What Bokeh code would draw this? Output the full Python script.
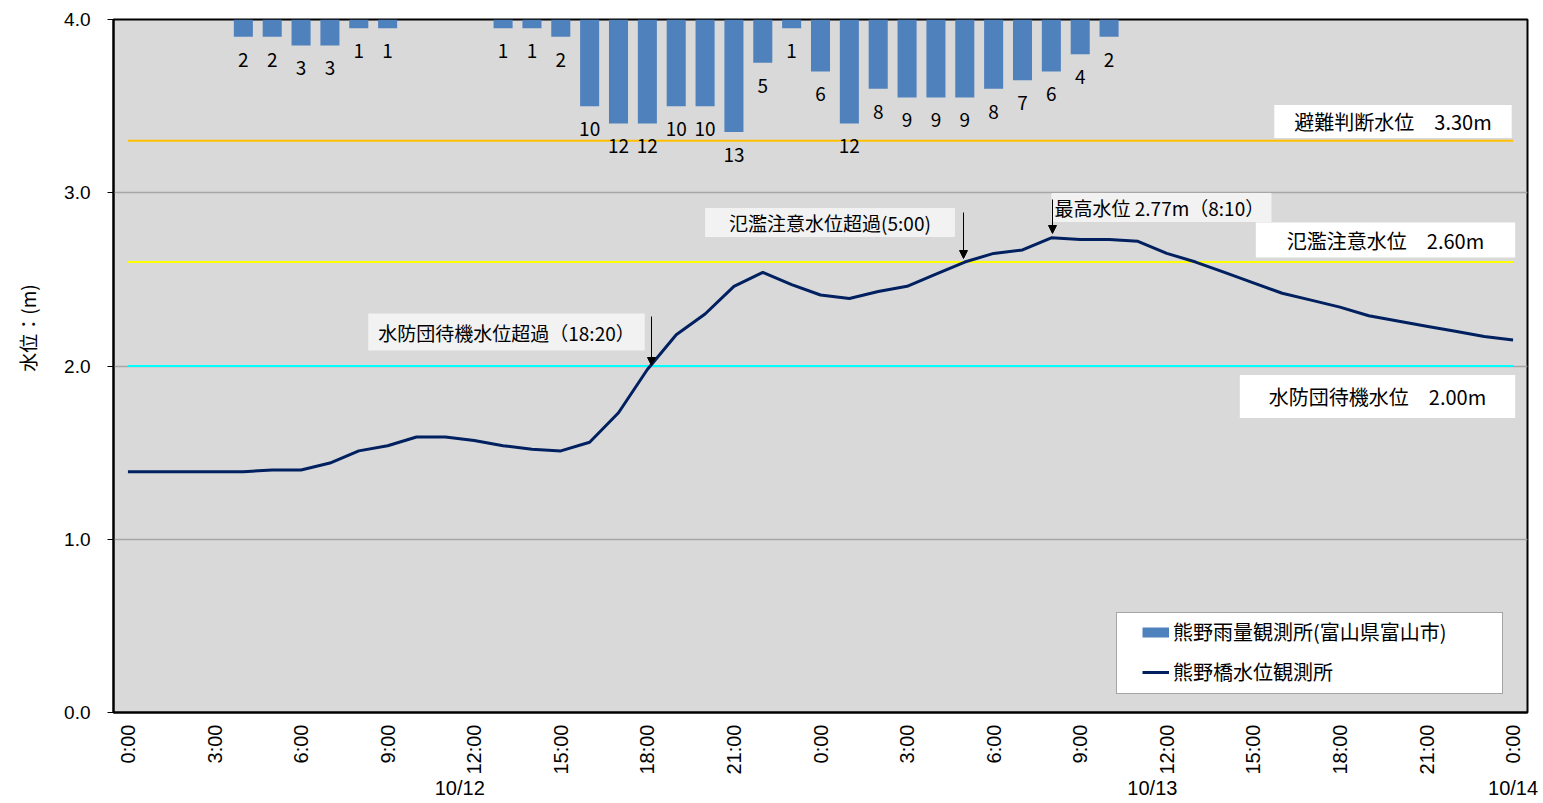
from math import pi
from bokeh.plotting import figure
from bokeh.models import (Range1d, FixedTicker, NumeralTickFormatter, ColumnDataSource, LinearAxis,
                          LabelSet, Label, Arrow, NormalHead, BoxAnnotation, Legend, LegendItem)
from bokeh.core.properties import value
from bokeh.embed import file_html
from bokeh.resources import INLINE

# ---------------- data ----------------
hours = list(range(49))  # 10/12 0:00 ... 10/14 0:00, hourly
water_level = [1.39, 1.39, 1.39, 1.39, 1.39, 1.40, 1.40, 1.44, 1.51, 1.54,
               1.59, 1.59, 1.57, 1.54, 1.52, 1.51, 1.56, 1.73, 1.98, 2.18,
               2.30, 2.46, 2.54, 2.47, 2.41, 2.39, 2.43, 2.46, 2.53, 2.60,
               2.65, 2.67, 2.74, 2.73, 2.73, 2.72, 2.65, 2.60, 2.54, 2.48,
               2.42, 2.38, 2.34, 2.29, 2.26, 2.23, 2.20, 2.17, 2.15]
rainfall = [0, 0, 0, 0, 2, 2, 3, 3, 1, 1,
            0, 0, 0, 1, 1, 2, 10, 12, 12, 10,
            10, 13, 5, 1, 6, 12, 8, 9, 9, 9,
            8, 7, 6, 4, 2, 0, 0, 0, 0, 0,
            0, 0, 0, 0, 0, 0, 0, 0, 0]
tick_hours = [0, 3, 6, 9, 12, 15, 18, 21, 24, 27, 30, 33, 36, 39, 42, 45, 48]
tick_labels = ["0:00", "3:00", "6:00", "9:00", "12:00", "15:00", "18:00", "21:00",
               "0:00", "3:00", "6:00", "9:00", "12:00", "15:00", "18:00", "21:00", "0:00"]
date_labels = ["10/12", "10/13", "10/14"]
date_centers = [11.5, 35.5, 48]
y_ticks = [0, 1, 2, 3, 4]
threshold_labels = ["避難判断水位　3.30m", "氾濫注意水位　2.60m", "水防団待機水位　2.00m"]
threshold_values = [3.30, 2.60, 2.00]
threshold_colors = ["#FFC000", "#FFFF00", "#00FFFF"]
rain_name = "熊野雨量観測所(富山県富山市)"
water_name = "熊野橋水位観測所"
y_title = "水位：(m)"

JP = "Noto Sans CJK JP"
NUM = "Liberation Sans"

# ---------------- layout helpers (page pixel -> data) ----------------
W, H = 1541, 803
X_LO, X_HI = -0.5, 48.5
F_L, F_R, F_T, F_B = 113, 1527, 19, 712
def px2x(px):
    return X_LO + (px - F_L) / (F_R - F_L) * (X_HI - X_LO)
def px2y(py):
    return (F_B - py) / (F_B - F_T) * 4.0

p = figure(width=W, height=H, x_range=Range1d(X_LO, X_HI), y_range=Range1d(0, 4),
           output_backend="svg", toolbar_location=None,
           min_border_left=F_L, min_border_right=W - F_R,
           min_border_top=F_T, min_border_bottom=H - F_B)
p.extra_y_ranges = {"rain": Range1d(start=80, end=0)}
p.background_fill_color = "#D9D9D9"
p.border_fill_color = "white"
p.outline_line_color = "black"
p.outline_line_width = 2

p.xgrid.visible = False
p.ygrid.ticker = FixedTicker(ticks=y_ticks)
p.ygrid.grid_line_color = "#A6A6A6"
p.ygrid.grid_line_width = 1.5

yax = p.yaxis[0]
yax.ticker = FixedTicker(ticks=y_ticks)
yax.formatter = NumeralTickFormatter(format="0.0")
yax.major_label_text_font = NUM
yax.major_label_text_font_size = "19px"
yax.major_label_text_color = "black"
yax.axis_line_width = 2
yax.axis_line_color = "black"
yax.major_tick_out = 6
yax.major_tick_in = 0
yax.minor_tick_line_color = None
yax.major_label_standoff = 17
yax.axis_label = "\u3000\u3000\u3000\u3000" + y_title
yax.axis_label_text_font = JP
yax.axis_label_text_font_size = "19px"
yax.axis_label_text_font_style = "normal"
yax.axis_label_text_color = "black"
yax.axis_label_standoff = 20

xax = p.xaxis[0]
xax.ticker = FixedTicker(ticks=tick_hours)
xax.major_label_overrides = {h: l for h, l in zip(tick_hours, tick_labels)}
xax.major_label_orientation = pi / 2
xax.major_label_text_font = NUM
xax.major_label_text_font_size = "20px"
xax.major_label_text_color = "black"
xax.major_tick_line_color = None
xax.minor_tick_line_color = None
xax.axis_line_width = 2
xax.axis_line_color = "black"
xax.major_label_standoff = 6

# second category level: dates
dax = LinearAxis(ticker=FixedTicker(ticks=date_centers),
                 major_label_overrides={c: d for c, d in zip(date_centers, date_labels)},
                 axis_line_color=None, major_tick_line_color=None, minor_tick_line_color=None,
                 major_label_text_font=NUM, major_label_text_font_size="20px",
                 major_label_text_color="black", major_label_standoff=-7)
p.add_layout(dax, "below")

# threshold lines
for v, c in zip(threshold_values, threshold_colors):
    p.line([hours[0], hours[-1]], [v, v], line_color=c, line_width=2)

# rainfall bars (hanging from top, inverted secondary scale)
bar_x = [h for h, r in zip(hours, rainfall) if r > 0]
bar_v = [r for r in rainfall if r > 0]
bar_src = ColumnDataSource(dict(x=bar_x, top=bar_v, label=[str(v) for v in bar_v]))
p.vbar(x="x", top="top", bottom=0, width=0.66, source=bar_src, y_range_name="rain",
       fill_color="#4F81BD", line_color=None)
p.add_layout(LabelSet(x="x", y="top", text="label", source=bar_src, y_range_name="rain",
                      y_offset=-23, text_align="center", text_baseline="middle",
                      text_font=value(JP), text_font_size=value("19px"), text_color="black"))

# water level line
water_r = p.line(hours, water_level, line_color="#002060", line_width=3)
# single-point proxy (draws nothing in the plot) used as the bar legend swatch
rain_proxy = p.line(x=hours[:1], y=water_level[:1], line_color="#4F81BD", line_width=10)

# threshold labels (white boxes)
lab_pos = [((1273 + 1512) / 2, 121, (20, 2)), ((1256 + 1514) / 2, 239.5, (31, 3)),
           ((1240 + 1514) / 2, 396, (29, 7))]
for t, (cx, cy, pad) in zip(threshold_labels, lab_pos):
    p.add_layout(Label(x=px2x(cx), y=px2y(cy), text=t, text_align="center", text_baseline="middle",
                       text_font=JP, text_font_size="20px", text_color="black",
                       background_fill_color="white", padding=pad))

# event annotations (light gray boxes with arrows)
ann = [("最高水位  2.77m（8:10）", (1051 + 1271) / 2, 207, (3, 1), 1052, 199, 233),
       ("氾濫注意水位超過(5:00)", (705 + 954) / 2, 222, (24, 1), 963, 212, 258),
       ("水防団待機水位超過（18:20）", (367 + 645) / 2, 331.5, (10, 5), 651, 316, 365)]
for t, cx, cy, pad, ax, ay0, ay1 in ann:
    p.add_layout(Label(x=px2x(cx), y=px2y(cy), text=t, text_align="center", text_baseline="middle",
                       text_font=JP, text_font_size="19px", text_color="black",
                       background_fill_color="#F2F2F2", padding=pad))
    p.add_layout(Arrow(x_start=px2x(ax), y_start=px2y(ay0), x_end=px2x(ax), y_end=px2y(ay1),
                       line_color="black", line_width=1,
                       end=NormalHead(size=8, fill_color="black", line_color="black")))

# legend
p.add_layout(BoxAnnotation(left=px2x(1116), right=px2x(1502), top=px2y(612), bottom=px2y(693),
                           fill_color="white", fill_alpha=1, line_color="black", line_width=1))
leg = Legend(items=[LegendItem(label=rain_name, renderers=[rain_proxy]),
                    LegendItem(label=water_name, renderers=[water_r])],
             location=(1142 - F_L, F_B - 686), margin=0, padding=0, spacing=11,
             glyph_width=27, glyph_height=24, label_height=24, label_standoff=4,
             label_text_font=JP, label_text_font_size="20px", label_text_color="black",
             border_line_color=None, background_fill_alpha=0)
p.add_layout(leg)

open("out.html", "w").write(file_html(p, INLINE))
